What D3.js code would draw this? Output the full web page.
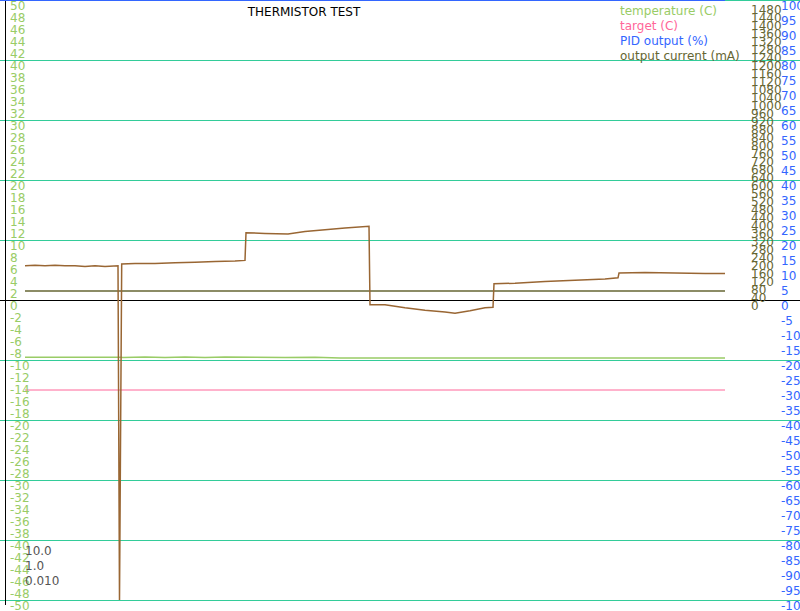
<!DOCTYPE html>
<html>
<head>
<meta charset="utf-8">
<script src="https://cdn.jsdelivr.net/npm/d3@7"></script>
<style>
  body { margin: 0; background: #fff; }
  text { font-family: "DejaVu Sans", sans-serif; font-size: 12px; }
</style>
</head>
<body>
<div id="chart"></div>
<script>
var W = 800, H = 611;

// time in seconds from first sample
var sensorTime = [0, 10, 20, 30, 40, 50, 60, 70, 80, 93, 94.5, 96.7, 110, 130, 150, 170, 190, 210, 220,
  221, 240, 263, 280, 300, 320, 344, 345, 360, 380, 400, 420, 430, 445, 460, 468,
  469, 490, 520, 550, 580, 593, 594, 620, 650, 680, 700];
var sensorTemp = [5.7, 5.8, 5.7, 5.8, 5.7, 5.7, 5.6, 5.7, 5.6, 5.7, -50, 6.0, 6.1, 6.1, 6.2, 6.3, 6.4, 6.5, 6.6,
  11.2, 11.1, 11.0, 11.4, 11.7, 12.0, 12.3, -0.8, -0.8, -1.3, -1.7, -2.0, -2.2, -1.8, -1.3, -1.2,
  2.7, 2.8, 3.1, 3.3, 3.5, 3.7, 4.5, 4.6, 4.5, 4.4, 4.4];

var tempTime = [0, 95, 98, 120, 140, 160, 180, 200, 230, 260, 290, 315, 700];
var temperature = [-9.55, -9.55, -9.6, -9.5, -9.6, -9.5, -9.6, -9.5, -9.55, -9.6, -9.55, -9.65, -9.65];

var targetTime = [0, 700];
var target = [-15, -15];

var pidTime = [-25, 700];
var pidOutput = [100, 100];

var currentTime = [0, 700];
var outputCurrent = [45, 45];

var gains = ["10.0", "1.0", "0.010"];
var legendNames = ["temperature (C)", "target (C)", "PID output (%)", "output current (mA)"];
var legendColors = ["#99cc66", "#ff6699", "#3366ff", "#666633"];

var tempTicks = d3.range(50, -51, -2);
var currentTicks = d3.range(1480, -1, -40);
var pidTicks = d3.range(100, -101, -5);
var gridTemps = [50, 40, 30, 20, 10, -10, -20, -30, -40, -50];

var x = d3.scaleLinear().domain([0, 700]).range([25, 725]);
var yTemp = d3.scaleLinear().domain([-50, 50]).range([600, 0]);
var yCur = d3.scaleLinear().domain([-1500, 1500]).range([600, 0]);
var yPid = d3.scaleLinear().domain([-100, 100]).range([600, 0]);

var svg = d3.select("#chart")
  .append("svg")
  .attr("width", W)
  .attr("height", H)
  .style("display", "block")
  .style("background", "#fff");

// grid
svg.selectAll(".grid")
  .data(gridTemps)
  .enter().append("line")
  .attr("x1", 0)
  .attr("x2", W)
  .attr("y1", function(d) { return yTemp(d); })
  .attr("y2", function(d) { return yTemp(d); })
  .style("stroke", "#33cc99")
  .style("stroke-width", 1)
  .style("shape-rendering", "crispEdges");

svg.append("line")
  .attr("x1", 0).attr("x2", W)
  .attr("y1", yTemp(0)).attr("y2", yTemp(0))
  .style("stroke", "#000")
  .style("shape-rendering", "crispEdges");

svg.append("line")
  .attr("x1", 5).attr("x2", 5)
  .attr("y1", 0).attr("y2", 605)
  .style("stroke", "#000")
  .style("shape-rendering", "crispEdges");

function sideAxis(scale, ticks, xPos, color) {
  var g = svg.append("g")
    .attr("transform", "translate(" + xPos + ",0)")
    .attr("font-family", "DejaVu Sans, sans-serif")
    .attr("font-size", 12)
    .call(d3.axisRight(scale)
      .tickValues(ticks)
      .tickSize(0)
      .tickPadding(0)
      .tickFormat(function(d) { return String(d); }));
  g.select(".domain").remove();
  g.selectAll(".tick line").remove();
  g.selectAll("text")
    .attr("dy", "0.83em")
    .style("fill", color);
}

function drawLine(times, values, yScale, color, width) {
  var pts = times.map(function(t, i) { return [t, values[i]]; });
  svg.append("path")
    .datum(pts)
    .attr("d", d3.line()
      .x(function(d) { return x(d[0]); })
      .y(function(d) { return yScale(d[1]); }))
    .style("fill", "none")
    .style("stroke", color)
    .style("stroke-width", width);
}

drawLine(targetTime, target, yTemp, "#ff6699", 1);
drawLine(tempTime, temperature, yTemp, "#99cc66", 1.5);
drawLine(currentTime, outputCurrent, yCur, "#666633", 1.5);
drawLine(sensorTime, sensorTemp, yTemp, "#996633", 1.5);
drawLine(pidTime, pidOutput, yPid, "#3366ff", 2);

sideAxis(yTemp, tempTicks, 10, "#99cc66");
sideAxis(yCur, currentTicks, 751, "#666633");
sideAxis(yPid, pidTicks, 781, "#3366ff");

svg.selectAll(".legend")
  .data(legendNames)
  .enter().append("text")
  .attr("x", 620)
  .attr("y", function(d, i) { return 15 + i * 15; })
  .style("fill", function(d, i) { return legendColors[i]; })
  .text(function(d) { return d; });

svg.append("text")
  .attr("x", 304)
  .attr("y", 16)
  .style("text-anchor", "middle")
  .style("fill", "#000")
  .text("THERMISTOR TEST");

svg.selectAll(".gain")
  .data(gains)
  .enter().append("text")
  .attr("x", 25)
  .attr("y", function(d, i) { return 555 + i * 15; })
  .style("fill", "#555")
  .text(function(d) { return d; });
</script>
</body>
</html>
